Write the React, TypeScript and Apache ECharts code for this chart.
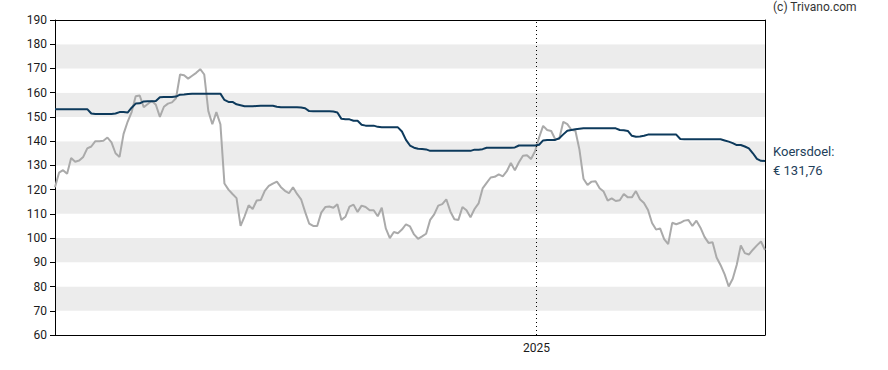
import React, { useEffect, useRef } from "react";
import * as echarts from "echarts";

// Sampling: one reading every 3 calendar days, starting at START_DATE
const START_DATE = "2024-01-09";
const STEP_DAYS = 3;
const YEAR_MARK = "2025-01-01";
const YEAR_LABEL = "2025";

const yTicks = { min: 60, max: 190, interval: 10 };

// Share price (grey line)
const price: number[] = [
  121, 127, 128, 126.5, 133, 131.5, 132, 133.5, 137, 137.8,
  140, 140, 140.2, 141.5, 139.5, 135, 133.5, 143, 148, 152,
  158.5, 158.8, 154, 155.3, 156.7, 155, 150, 154.2, 155.5, 156,
  157.7, 167.5, 167.2, 165.8, 167, 168.2, 169.7, 167.5, 152.5, 147,
  152, 147, 122.5, 120, 118.2, 116.5, 105, 109, 113.5, 112,
  115.5, 115.7, 119.5, 121.5, 122.5, 123.3, 121, 119.5, 118.5, 121,
  118.2, 116, 110.8, 106, 105, 105, 110.5, 112.8, 113, 112.5,
  114, 107.5, 108.8, 113, 113.8, 110.8, 113.4, 112.8, 111.5, 111.5,
  109, 112.5, 104, 100, 102.5, 102, 103.5, 105.7, 104.8, 101.5,
  99.7, 100.7, 101.8, 107.5, 109.8, 113.4, 114, 116, 111, 107.8,
  107.5, 112.8, 111.5, 108.6, 112, 114.3, 120.5, 122.8, 125, 125.3,
  126.3, 125.5, 127.6, 131, 128, 131.3, 134, 134.2, 132.6, 135.8,
  141.5, 146.3, 144.6, 144.2, 140.8, 141, 148, 147, 144.7, 144.3,
  136.5, 124.5, 121.9, 123.3, 123.5, 120.6, 119.2, 115.5, 116.4, 115.3,
  115.6, 118.2, 116.8, 116.8, 119.4, 116, 114.5, 111.6, 106.2, 103.5,
  104, 99.6, 97.5, 106.3, 105.7, 106.3, 107.2, 107.5, 105, 107.2,
  104.3, 100.5, 98, 98.3, 92, 88.8, 85, 80, 83.2, 89,
  97, 93.8, 93.2, 95.2, 97, 98.6, 95.1,
];

// Price target, "Koersdoel" (dark blue line)
const target: number[] = [
  153.2, 153.2, 153.2, 153.2, 153.2, 153.2, 153.2, 153.2, 153.2, 151.4,
  151.2, 151.2, 151.2, 151.2, 151.2, 151.4, 152, 152, 151.8, 153.8,
  155.5, 155.6, 156.4, 156.5, 156.5, 156.6, 158.1, 158.2, 158.2, 158.2,
  158.4, 159.2, 159.3, 159.5, 159.6, 159.6, 159.6, 159.6, 159.6, 159.6,
  159.6, 159.6, 157, 156.2, 156.2, 155.2, 154.8, 154.4, 154.4, 154.4,
  154.5, 154.6, 154.6, 154.6, 154.6, 154.2, 154, 154, 154, 154,
  154, 153.9, 153.6, 152.4, 152.3, 152.3, 152.3, 152.3, 152.3, 152.2,
  151.8, 149.2, 149, 149, 148.4, 148.4, 146.8, 146.4, 146.4, 146.4,
  145.9, 145.7, 145.7, 145.7, 145.7, 145.7, 144, 140.5, 138.2, 137.3,
  136.9, 136.8, 136.6, 136, 136, 136, 136, 136, 136, 136,
  136, 136, 136, 136, 136.5, 136.5, 136.7, 137.3, 137.3, 137.3,
  137.3, 137.3, 137.3, 137.3, 137.4, 138.2, 138.2, 138.2, 138.2, 138.2,
  138.5, 140.3, 140.5, 140.5, 140.5, 141.2, 142.8, 144.3, 144.6, 144.9,
  145.1, 145.3, 145.3, 145.3, 145.3, 145.3, 145.3, 145.3, 145.3, 145.3,
  144.6, 144.5, 144.2, 142.2, 141.8, 141.9, 142.2, 142.7, 142.7, 142.7,
  142.7, 142.7, 142.7, 142.7, 142.7, 140.9, 140.8, 140.8, 140.8, 140.8,
  140.8, 140.8, 140.8, 140.8, 140.8, 140.8, 140.3, 139.8, 139.2, 138.4,
  138.4, 137.8, 137, 135, 132.7, 131.9, 131.76,
];

const DAY = 86400000;
const startTs = Date.parse(START_DATE + "T00:00:00Z");
const dates = price.map((_, i) => startTs + i * STEP_DAYS * DAY);
const yearTs = Date.parse(YEAR_MARK + "T00:00:00Z");

const FONT = "Roboto, 'Noto Sans', sans-serif";

export default function App() {
  const ref = useRef<HTMLDivElement>(null);

  useEffect(() => {
    if (!ref.current) return;
    const chart = echarts.init(ref.current, null, { renderer: "svg" });
    const xMin = dates[0];
    const xMax = dates[dates.length - 1];

    chart.setOption({
      animation: false,
      backgroundColor: "#ffffff",
      textStyle: { fontFamily: FONT },
      grid: { left: 55, top: 20, right: 123, bottom: 35 },
      xAxis: [
        {
          type: "time",
          min: xMin,
          max: xMax,
          position: "bottom",
          axisLine: { show: true, lineStyle: { color: "#000", width: 1 } },
          axisTick: { show: false },
          axisLabel: { show: false },
          splitLine: { show: false },
        },
        {
          type: "time",
          min: xMin,
          max: xMax,
          position: "top",
          axisLine: { show: true, onZero: false, lineStyle: { color: "#000", width: 1 } },
          axisTick: { show: false },
          axisLabel: { show: false },
          splitLine: { show: false },
        },
      ],
      yAxis: [
        {
          type: "value",
          min: yTicks.min,
          max: yTicks.max,
          interval: yTicks.interval,
          position: "left",
          axisLine: { show: true, lineStyle: { color: "#000", width: 1 } },
          axisTick: { show: true, length: 5, lineStyle: { color: "#000" } },
          axisLabel: { color: "#1a1a1a", fontSize: 12, margin: 8, fontFamily: FONT },
          splitLine: { show: false },
          splitArea: {
            show: true,
            areaStyle: { color: ["#ffffff", "#ececec"] },
          },
        },
        {
          type: "value",
          min: yTicks.min,
          max: yTicks.max,
          interval: yTicks.interval,
          position: "right",
          axisLine: { show: true, onZero: false, lineStyle: { color: "#000", width: 1 } },
          axisTick: { show: false },
          axisLabel: { show: false },
          splitLine: { show: false },
          splitArea: { show: false },
        },
      ],
      series: [
        {
          type: "line",
          name: "Koers",
          data: dates.map((d, i) => [d, price[i]]),
          showSymbol: false,
          symbol: "none",
          lineStyle: { color: "#aaaaaa", width: 2 },
          z: 2,
          markLine: {
            silent: true,
            symbol: ["none", "none"],
            lineStyle: { color: "#000", width: 1, type: [1, 3] },
            label: {
              show: true,
              position: "start",
              distance: 7,
              formatter: YEAR_LABEL,
              color: "#1a1a1a",
              fontSize: 12,
              fontFamily: FONT,
            },
            data: [{ xAxis: yearTs }],
          },
        },
        {
          type: "line",
          name: "Koersdoel",
          data: dates.map((d, i) => [d, target[i]]),
          showSymbol: false,
          symbol: "none",
          lineStyle: { color: "#0d3a5c", width: 2 },
          z: 3,
          endLabel: {
            show: true,
            distance: 8,
            color: "#22405a",
            fontSize: 13,
            lineHeight: 19,
            fontFamily: FONT,
            align: "left",
            formatter: (p: any) =>
              "Koersdoel:\n€ " + Number(p.value[1]).toFixed(2).replace(".", ","),
          },
        },
      ],
      graphic: [
        {
          type: "text",
          left: 773,
          top: 1,
          style: {
            text: "(c) Trivano.com",
            font: "12px " + FONT,
            fill: "#333333",
          },
        },
      ],
    });

    return () => chart.dispose();
  }, []);

  return (
    <div
      ref={ref}
      style={{ position: "fixed", left: 0, top: 0, width: 888, height: 370, background: "#fff" }}
    />
  );
}
